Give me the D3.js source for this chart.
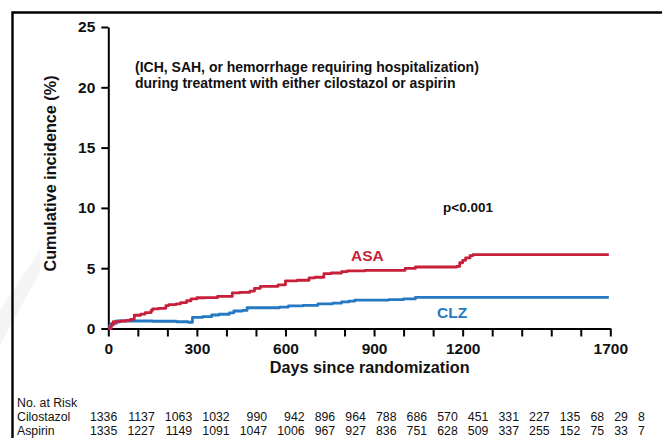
<!DOCTYPE html>
<html>
<head>
<meta charset="utf-8">
<script src="https://cdn.jsdelivr.net/npm/d3@7"></script>
<style>
  html, body { margin: 0; padding: 0; background: #fff; }
  svg { display: block; font-family: "Liberation Sans", Arial, Helvetica, sans-serif; }
</style>
</head>
<body>
<svg id="chart" width="662" height="438"></svg>
<script>
// ---------- DATA ----------
const asaDays   = [0, 10, 17, 40, 60, 75, 88, 110, 125, 145, 150, 170, 195, 205, 230, 245, 265, 280, 300, 330, 370, 420, 445, 480, 495, 515, 575, 600, 640, 680, 700, 730, 755, 790, 810, 870, 1005, 1040, 1180, 1190, 1200, 1210, 1225, 1235, 1695];
const asaValues = [0, 0.3, 0.56, 0.62, 0.68, 0.76, 1.1, 1.2, 1.31, 1.5, 1.62, 1.67, 1.9, 1.98, 2.05, 2.15, 2.3, 2.45, 2.55, 2.56, 2.66, 2.95, 3.0, 3.1, 3.33, 3.5, 3.62, 3.95, 4.0, 4.2, 4.25, 4.55, 4.6, 4.72, 4.78, 4.82, 4.98, 5.1, 5.15, 5.45, 5.65, 5.85, 6.05, 6.12, 6.12];

const clzDays   = [0, 5, 11, 28, 150, 230, 270, 285, 320, 350, 375, 410, 425, 455, 470, 580, 610, 660, 710, 760, 790, 815, 835, 950, 1000, 1040, 1695];
const clzValues = [0, 0.25, 0.43, 0.62, 0.6, 0.56, 0.52, 0.93, 0.98, 1.12, 1.18, 1.3, 1.45, 1.5, 1.72, 1.78, 1.87, 1.92, 2.05, 2.1, 2.2, 2.27, 2.36, 2.4, 2.45, 2.58, 2.58];

const seriesNames = ["ASA", "CLZ"];
const yTickValues = [0, 5, 10, 15, 20, 25];
const xTickValues = d3.range(0, 1701, 100);
const xTickLabels = [0, 300, 600, 900, 1200, 1700];

const riskRowLabels = ["Cilostazol", "Aspirin"];
const riskCilostazol = [1336, 1137, 1063, 1032, 990, 942, 896, 964, 788, 686, 570, 451, 331, 227, 135, 68, 29, 8];
const riskAspirin    = [1335, 1227, 1149, 1091, 1047, 1006, 967, 927, 836, 751, 628, 509, 337, 255, 152, 75, 33, 7];

const annotationLines = ["(ICH, SAH, or hemorrhage requiring hospitalization)",
                         "during treatment with either cilostazol or aspirin"];
const pValueText = "p<0.001";
const xTitle = "Days since randomization";
const yTitle = "Cumulative incidence (%)";
const riskTitle = "No. at Risk";

// ---------- LAYOUT / STYLE ----------
const RED = "#c8203b";
const BLUE = "#2579c2";
const svg = d3.select("#chart");

// faint background watermark stripe
svg.append("path")
  .attr("d", "M0,310 L0,345 L40,272 L40,250 Z")
  .attr("fill", "#f4f4f4");

// outer frame (left + top)
svg.append("path")
  .attr("d", "M12.5,438 L12.5,12.5 L662,12.5")
  .attr("fill", "none").attr("stroke", "#000").attr("stroke-width", 2.4);

const x = d3.scaleLinear().domain([0, 1700]).range([108.3, 610.3]);
const y = d3.scaleLinear().domain([0, 25]).range([328.5, 27]);

// Y axis
const yAxis = svg.append("g")
  .attr("transform", `translate(${x(0)},0)`)
  .call(d3.axisLeft(y).tickValues(yTickValues).tickSize(7).tickPadding(6).tickSizeOuter(0));
yAxis.select(".domain").attr("stroke-width", 2);
yAxis.selectAll(".tick line").attr("stroke-width", 2);
yAxis.selectAll(".tick text")
  .attr("font-size", 15.5).attr("font-weight", "bold").attr("fill", "#111")
  .attr("font-family", "Liberation Sans, Arial, sans-serif");

// X axis
const xAxis = svg.append("g")
  .attr("transform", `translate(0,${y(0)})`)
  .call(d3.axisBottom(x).tickValues(xTickValues).tickSize(8).tickPadding(6)
        .tickSizeOuter(0)
        .tickFormat(d => xTickLabels.includes(d) ? d : ""));
xAxis.select(".domain").attr("stroke-width", 2);
xAxis.selectAll(".tick line").attr("stroke-width", 2);
xAxis.selectAll(".tick text")
  .attr("font-size", 15.5).attr("font-weight", "bold").attr("fill", "#111")
  .attr("font-family", "Liberation Sans, Arial, sans-serif");

// curves
const line = d3.line().x(d => x(d[0])).y(d => y(d[1])).curve(d3.curveStepAfter);
const asa = d3.zip(asaDays, asaValues);
const clz = d3.zip(clzDays, clzValues);

svg.append("path").datum(clz)
  .attr("d", line).attr("fill", "none").attr("stroke", BLUE)
  .attr("stroke-width", 2.8).attr("stroke-linejoin", "round");
svg.append("path").datum(asa)
  .attr("d", line).attr("fill", "none").attr("stroke", RED)
  .attr("stroke-width", 2.8).attr("stroke-linejoin", "round");

// series labels
svg.append("text").text(seriesNames[0])
  .attr("x", 351).attr("y", 260.5)
  .attr("font-size", 15.5).attr("font-weight", "bold").attr("fill", RED);
svg.append("text").text(seriesNames[1])
  .attr("x", 437).attr("y", 317.5)
  .attr("font-size", 15.5).attr("font-weight", "bold").attr("fill", BLUE);

// annotation
svg.append("text")
  .attr("x", 135).attr("y", 71.5)
  .attr("font-size", 14).attr("font-weight", "bold").attr("fill", "#111")
  .selectAll("tspan").data(annotationLines).join("tspan")
  .attr("x", 135).attr("dy", (d, i) => i === 0 ? 0 : 16.5).text(d => d);

svg.append("text").text(pValueText)
  .attr("x", 443).attr("y", 211.5)
  .attr("font-size", 13.5).attr("font-weight", "bold").attr("fill", "#111");

// axis titles
svg.append("text").text(xTitle)
  .attr("x", 369.7).attr("y", 372.5).attr("text-anchor", "middle")
  .attr("font-size", 16.2).attr("font-weight", "bold").attr("fill", "#111");
svg.append("text").text(yTitle)
  .attr("transform", "translate(55.5,173.5) rotate(-90)").attr("text-anchor", "middle")
  .attr("font-size", 16.2).attr("font-weight", "bold").attr("fill", "#111");

// risk table
const riskFont = 12.3;
const riskG = svg.append("g").attr("font-size", riskFont).attr("fill", "#111");
riskG.append("text").text(riskTitle).attr("x", 17).attr("y", 406.5);
const rowY = [421, 435];
riskRowLabels.forEach((lab, i) => riskG.append("text").text(lab).attr("x", 17).attr("y", rowY[i]));

// measure column widths, lay out right-aligned columns
const measure = riskG.append("text").attr("visibility", "hidden");
function textW(s) { measure.text(s); return measure.node().getComputedTextLength(); }
const colGap = 10.1;
let right = 117.3;
const colRights = riskCilostazol.map((v, i) => {
  const w = Math.max(textW(String(v)), textW(String(riskAspirin[i])));
  if (i > 0) right += colGap + w;
  return right;
});
measure.remove();
[riskCilostazol, riskAspirin].forEach((row, r) => {
  riskG.selectAll(null).data(row).join("text")
    .attr("x", (d, i) => colRights[i]).attr("y", rowY[r])
    .attr("text-anchor", "end").text(d => d);
});
</script>
</body>
</html>
